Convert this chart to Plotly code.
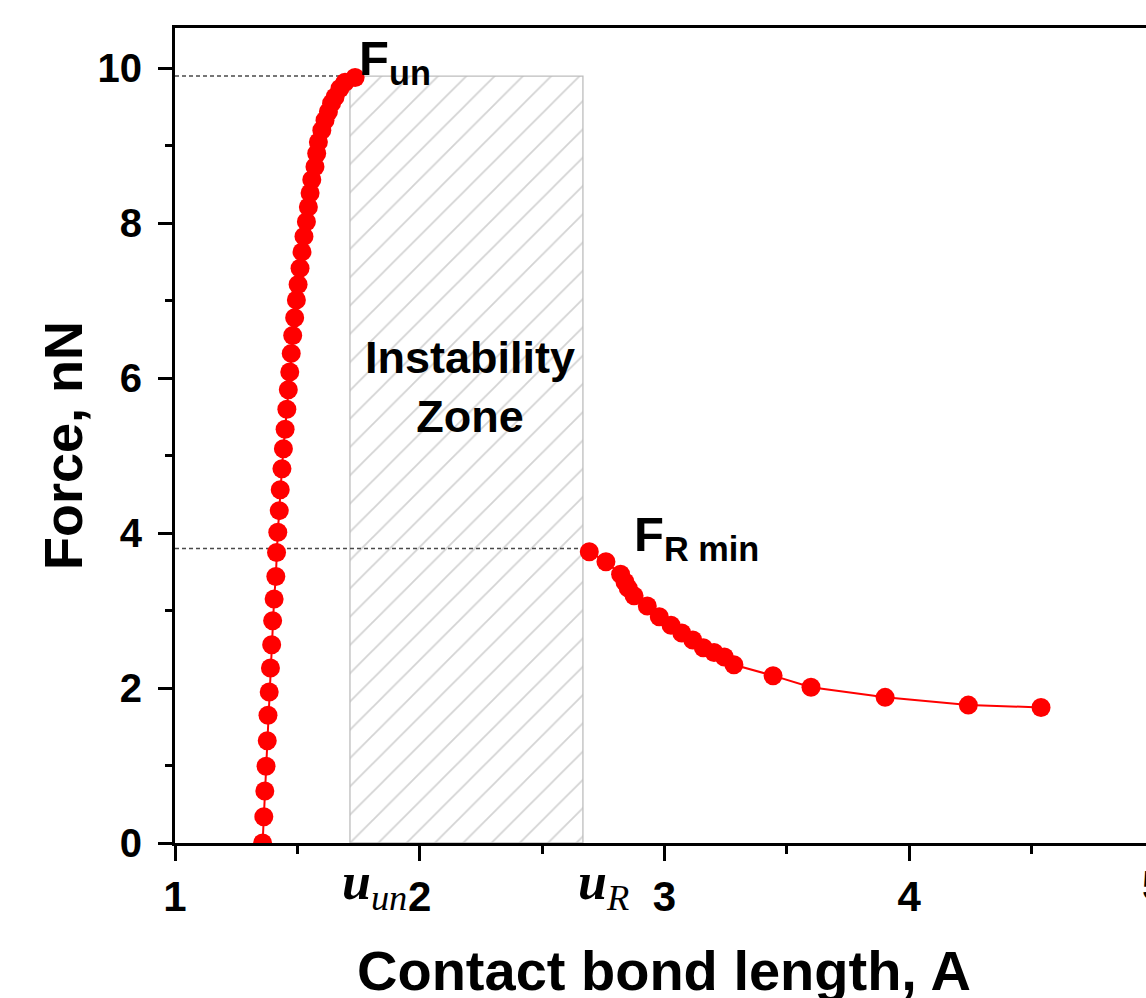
import plotly.graph_objects as go

# ---------------- data ----------------
left_x = [1.358, 1.363, 1.367, 1.372, 1.377, 1.380, 1.385, 1.390, 1.395, 1.399,
          1.405, 1.412, 1.415, 1.420, 1.426, 1.430, 1.437, 1.443, 1.450, 1.457,
          1.463, 1.469, 1.475, 1.481, 1.489, 1.496, 1.503, 1.511, 1.519, 1.527,
          1.537, 1.545, 1.552, 1.559, 1.572, 1.579, 1.586, 1.600, 1.613, 1.627,
          1.640, 1.654, 1.674, 1.695, 1.736]
left_y = [0.00, 0.34, 0.67, 0.99, 1.32, 1.65, 1.95, 2.26, 2.56, 2.87,
          3.15, 3.44, 3.75, 4.01, 4.29, 4.56, 4.83, 5.09, 5.34, 5.60,
          5.85, 6.08, 6.32, 6.55, 6.78, 7.01, 7.21, 7.42, 7.63, 7.83,
          8.02, 8.21, 8.39, 8.56, 8.73, 8.90, 9.05, 9.20, 9.33, 9.44,
          9.55, 9.63, 9.74, 9.82, 9.88]

right_x = [2.693, 2.761, 2.821, 2.839, 2.852, 2.876, 2.930, 2.979, 3.027, 3.071,
           3.116, 3.159, 3.203, 3.245, 3.284, 3.444, 3.599, 3.902, 4.242, 4.539]
right_y = [3.76, 3.63, 3.47, 3.37, 3.29, 3.19, 3.06, 2.92, 2.81, 2.71,
           2.62, 2.52, 2.46, 2.40, 2.30, 2.16, 2.01, 1.88, 1.78, 1.75]

u_un = 1.715     # start of instability zone
u_R = 2.667      # end of instability zone
F_un = 9.90
F_Rmin = 3.80

x_ticks = [1, 2, 3, 4]
x_minor = [1.5, 2.5, 3.5, 4.5]
y_ticks = [0, 2, 4, 6, 8, 10]
y_minor = [1, 3, 5, 7, 9]
x_range = [1, 4.968]
y_range = [0, 10.52]

SANS = "Liberation Sans, Arial, sans-serif"
SERIF = "Liberation Serif, Times New Roman, serif"

# ---------------- figure ----------------
fig = go.Figure()

# hatched instability zone
fig.add_trace(go.Scatter(
    x=[u_un, u_R, u_R, u_un, u_un], y=[0, 0, F_un, F_un, 0],
    mode="lines", fill="toself", fillcolor="white",
    fillpattern=dict(shape="/", size=20, solidity=0.09,
                     fgcolor="#a8a8a8", bgcolor="white"),
    line=dict(color="#bdbdbd", width=1.3),
    hoverinfo="skip", showlegend=False))

# dashed guide lines
fig.add_trace(go.Scatter(
    x=[x_range[0], u_un], y=[F_un, F_un], mode="lines",
    line=dict(color="#4a4a4a", width=1.5, dash="4px,3px"),
    hoverinfo="skip", showlegend=False))
fig.add_trace(go.Scatter(
    x=[x_range[0], right_x[0]], y=[F_Rmin, F_Rmin], mode="lines",
    line=dict(color="#4a4a4a", width=1.5, dash="4px,3px"),
    hoverinfo="skip", showlegend=False))

# data branches
for xs, ys in ((left_x, left_y), (right_x, right_y)):
    fig.add_trace(go.Scatter(
        x=xs, y=ys, mode="lines+markers",
        line=dict(color="#ff0000", width=2),
        marker=dict(color="#ff0000", size=19, line=dict(width=0)),
        showlegend=False))

W, H = 1146, 998
L, R, T, B = 175, 0, 28, 155
PW, PH = W - L - R, H - T - B


def px(xp):
    return (xp - L) / PW


def py(yp):
    return (H - B - yp) / PH


fig.update_layout(
    width=W, height=H,
    margin=dict(l=L, r=R, t=T, b=B, pad=0),
    paper_bgcolor="white", plot_bgcolor="white",
    showlegend=False,
    xaxis=dict(
        range=x_range, showgrid=False, zeroline=False,
        showline=True, linecolor="black", linewidth=3, mirror=True,
        ticks="outside", ticklen=15, tickwidth=3, tickcolor="black",
        tickvals=x_ticks, ticktext=[str(v) for v in x_ticks],
        tickfont=dict(family=SANS, size=42, color="black", weight="bold"),
        ticklabelstandoff=0,
        minor=dict(tickvals=x_minor, ticks="outside", ticklen=8,
                   tickwidth=3, tickcolor="black", showgrid=False),
    ),
    yaxis=dict(
        range=y_range, showgrid=False, zeroline=False,
        showline=True, linecolor="black", linewidth=3, mirror=False,
        ticks="outside", ticklen=14, tickwidth=3, tickcolor="black",
        tickvals=y_ticks, ticktext=[str(v) for v in y_ticks],
        tickfont=dict(family=SANS, size=40, color="black", weight="bold"),
        ticklabelstandoff=8,
        minor=dict(tickvals=y_minor, ticks="outside", ticklen=7,
                   tickwidth=3, tickcolor="black", showgrid=False),
    ),
)

ann = []
# axis titles
ann.append(dict(text="<b>Contact bond length, A</b>", xref="paper", yref="paper",
                x=px(664), y=py(970), xanchor="center", yanchor="middle",
                showarrow=False, font=dict(family=SANS, size=56, color="black")))
ann.append(dict(text="<b>Force, nN</b>", xref="paper", yref="paper",
                x=px(63), y=py(446), xanchor="center", yanchor="middle",
                textangle=-90, showarrow=False,
                font=dict(family=SANS, size=54, color="black")))
# partial tick label "5" cut at the edge
ann.append(dict(text="<b>5</b>", xref="paper", yref="paper",
                x=px(1153), y=py(886), xanchor="center", yanchor="middle",
                showarrow=False, font=dict(family=SANS, size=42, color="black")))
# point labels
ann.append(dict(text="<b>F<sub>un</sub></b>", xref="paper", yref="paper",
                x=px(357), y=py(62), xanchor="left", yanchor="middle",
                showarrow=False, font=dict(family=SANS, size=49, color="black")))
ann.append(dict(text="<b>F<sub>R min</sub></b>", xref="paper", yref="paper",
                x=px(632), y=py(537), xanchor="left", yanchor="middle",
                showarrow=False, font=dict(family=SANS, size=49, color="black")))
ann.append(dict(text="<b>Instability<br>Zone</b>", xref="paper", yref="paper",
                x=px(470), y=py(387), xanchor="center", yanchor="middle",
                showarrow=False, font=dict(family=SANS, size=45, color="black")))
# u labels on x axis
ann.append(dict(text="<b><i>u</i></b><sub><i>un</i></sub>", xref="paper", yref="paper",
                x=px(409), y=py(886), xanchor="right", yanchor="middle",
                showarrow=False, font=dict(family=SERIF, size=52, color="black")))
ann.append(dict(text="<b><i>u</i></b><sub><i>R</i></sub>", xref="paper", yref="paper",
                x=px(576), y=py(886), xanchor="left", yanchor="middle",
                showarrow=False, font=dict(family=SERIF, size=52, color="black")))
fig.update_layout(annotations=ann)

fig.write_html("out.html",
               config={"displayModeBar": False},
               post_script="document.body.style.margin='0px';"
                           "document.body.style.padding='0px';"
                           "document.body.style.overflow='hidden';")
